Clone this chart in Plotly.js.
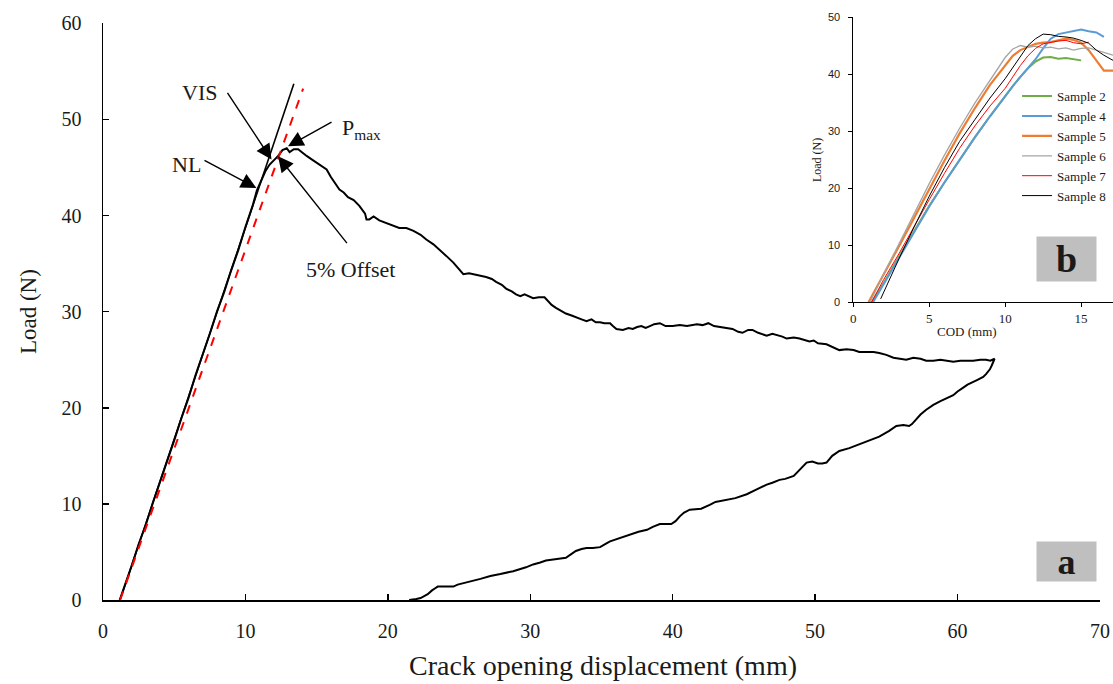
<!DOCTYPE html>
<html>
<head>
<meta charset="utf-8">
<script src="https://cdn.plot.ly/plotly-3.0.1.min.js"></script>
<style>html,body{margin:0;padding:0;background:#fff;}#chart{width:1113px;height:684px;}</style>
</head>
<body>
<div id="chart"></div>
<script>
// ---------- Main chart (a): load vs crack opening displacement ----------
var codMain = [1.17,1.6,2.0,2.5,3.0,3.5,4.0,4.5,5.0,5.5,6.0,6.5,7.0,7.5,8.0,8.5,9.0,9.5,10.0,10.5,10.8,11.1,11.4,11.7,12.0,12.3,12.6,12.9,13.1,13.4,13.7,14.0,14.3,14.6,15.0,15.3,15.7,16.0,16.3,16.6,16.9,17.2,17.6,18.0,18.4,18.5,18.7,19.0,19.4,19.9,20.4,20.8,21.3,21.8,22.3,22.7,23.2,23.6,24.1,24.6,25.0,25.3,25.7,26.0,26.5,26.9,27.3,27.6,28.0,28.3,28.7,29.0,29.3,29.6,30.2,30.6,31.0,31.25,31.5,31.8,32.2,32.5,32.9,33.2,33.6,33.95,34.3,34.6,34.9,35.2,35.6,35.8,36.05,36.5,36.9,37.2,37.5,37.8,38.1,38.4,38.7,39.1,39.5,40.0,40.5,41.0,41.3,41.7,42.1,42.5,42.9,43.3,43.8,44.2,44.6,44.9,45.3,45.6,46.0,46.6,47.0,47.3,47.7,48.0,48.5,48.9,49.3,49.6,49.9,50.2,50.8,51.3,51.7,52.2,52.7,53.1,53.6,54.1,54.5,55.0,55.5,55.9,56.4,56.9,57.4,57.8,58.3,58.8,59.2,59.7,60.2,60.7,61.1,61.6,62.0,62.3,62.6,
  62.4,62.27,62.0,61.8,61.4,61.1,60.7,60.4,60.0,59.7,59.2,58.8,58.3,57.8,57.4,57.1,56.8,56.6,56.2,55.7,55.2,54.5,53.8,53.1,52.4,51.7,51.2,50.8,50.5,50.2,49.8,49.4,48.9,48.5,47.9,47.5,47.0,46.6,45.9,45.2,44.4,43.5,43.0,42.6,42.0,41.2,40.8,40.5,40.2,39.9,39.1,38.6,38.2,37.6,37.0,36.5,36.05,35.6,35.35,34.9,34.4,33.95,33.6,33.2,32.9,32.5,32.0,31.6,31.1,30.7,30.2,29.7,28.8,27.9,27.2,26.5,25.9,25.3,24.9,24.6,24.1,23.5,23.3,23.1,22.8,22.6,22.3,22.0,21.5];
var loadMain = [0,1.8,3.5,5.8,7.8,10.1,12.2,14.5,16.6,18.9,21.0,23.4,25.5,27.7,30.0,32.0,34.3,36.4,38.8,41.0,42.6,43.6,44.6,45.3,45.7,46.2,46.8,47.0,46.6,46.9,46.9,46.5,46.2,45.9,45.5,45.2,44.8,44.0,43.3,42.7,42.4,41.9,41.6,41.0,40.2,39.6,39.6,39.9,39.5,39.2,38.9,38.7,38.7,38.4,38.0,37.5,37.0,36.5,35.8,35.1,34.4,33.9,34.0,33.9,33.8,33.6,33.4,33.1,32.8,32.4,32.1,31.8,31.6,31.8,31.4,31.5,31.5,31.1,30.7,30.4,30.1,29.8,29.6,29.4,29.2,29.0,29.2,28.9,28.9,28.8,28.8,28.5,28.2,28.1,28.3,28.2,28.4,28.5,28.3,28.5,28.7,28.8,28.5,28.5,28.6,28.5,28.6,28.7,28.6,28.8,28.5,28.4,28.3,28.2,27.9,27.8,28.1,28.1,27.8,27.5,27.7,27.6,27.4,27.2,27.3,27.2,27.0,26.9,27.0,26.7,26.6,26.3,26.0,26.1,26.0,25.8,25.8,25.8,25.7,25.5,25.2,25.1,25.0,25.2,25.1,24.9,24.9,25.0,24.9,24.8,24.9,24.9,24.9,25.0,25.0,24.9,25.1,
  24.4,24.0,23.5,23.2,22.9,22.7,22.4,22.1,21.7,21.3,21.0,20.7,20.3,19.8,19.3,18.8,18.3,18.1,18.2,18.1,17.6,17.0,16.6,16.2,15.8,15.5,15.0,14.3,14.2,14.2,14.4,14.3,13.5,12.9,12.6,12.5,12.2,12.0,11.5,11.0,10.6,10.3,10.2,9.9,9.5,9.4,9.1,8.7,8.2,7.9,7.9,7.6,7.3,7.1,6.8,6.6,6.4,6.1,5.9,5.5,5.4,5.4,5.3,5.1,4.8,4.4,4.3,4.2,4.1,3.9,3.7,3.4,3.0,2.7,2.5,2.2,2.0,1.8,1.6,1.4,1.4,1.4,1.2,1.0,0.6,0.45,0.2,0.1,0.0];

// initial-slope tangent line and 5% offset secant line
var tangentCod = [1.2, 13.4];
var tangentLoad = [0, 53.7];
var offsetCod = [1.2, 14.05];
var offsetLoad = [0, 53.2];

// ---------- Inset (b): samples ----------
var sampleNames = ["Sample 2","Sample 4","Sample 5","Sample 6","Sample 7","Sample 8"];
var s2Cod = [1.2,2,3,4,5,6,7,8,9,10,10.5,11,11.5,12,12.5,13,13.5,14,14.5,15];
var s2Load = [0,3.4,8.0,12.5,16.9,21.0,25.0,28.9,32.6,36.2,37.9,39.5,41.0,42.2,42.9,43.0,42.7,42.8,42.6,42.4];
var s4Cod = [1.3,2,3,4,5,6,7,8,9,10,10.5,11,11.5,12,12.5,13,13.5,14,14.5,15,15.5,16,16.5];
var s4Load = [0,3.2,7.8,12.4,16.8,21.0,25.0,28.9,32.6,36.2,37.9,39.5,41.0,42.6,44.5,46.2,47.0,47.3,47.6,47.8,47.5,47.3,46.5];
var s5Cod = [1.0,2,3,4,5,6,7,8,9,10,10.5,11,11.5,12,12.5,13,13.5,14,14.5,15,15.5,16,16.5,17.1];
var s5Load = [0,4.8,9.8,14.8,19.9,24.8,29.6,34.0,38.1,41.6,43.2,44.2,44.8,45.3,45.5,45.6,45.9,46.2,46.0,45.5,44.2,42.3,40.6,40.6];
var s6Cod = [1.1,2,3,4,5,6,7,8,9,10,10.5,11,11.5,12,12.5,13,13.5,14,14.5,15,15.5,16,16.5,17.1];
var s6Load = [0,5.0,10.2,15.6,20.8,25.8,30.5,34.9,39.0,42.9,44.4,45.0,44.7,44.9,44.6,44.7,44.4,44.6,44.2,44.5,44.6,44.2,43.9,43.3];
var s7Cod = [1.2,2,3,4,5,6,7,8,9,10,10.5,11,11.5,12,12.5,13,13.5,14,14.5,15,15.5];
var s7Load = [0,4.0,8.5,13.3,18.0,22.6,27.0,30.9,34.4,37.5,39.5,41.5,43.2,44.5,45.3,45.6,45.8,45.9,45.5,45.3,45.6];
var s8Cod = [1.8,2,3,4,5,6,7,8,9,10,10.5,11,11.5,12,12.5,13,13.5,14,14.5,15,15.5,16,16.5,17.1];
var s8Load = [0.6,1.8,7.6,13.2,18.6,23.6,28.2,32.0,35.8,39.2,41.2,43.2,45.0,46.2,47.0,46.9,46.6,46.5,46.3,45.9,45.4,44.2,43.3,42.4];
var sampleColors = ["#70AD47","#5B9BD5","#ED7D31","#A5A5A5","#FF0000","#000000"];
var sampleWidths = [2,2,2.2,1.3,1,1];

var serif = "Liberation Serif, Times New Roman, serif";
var txt = "#1a1a1a";

var traces = [
  {x: codMain, y: loadMain, mode: "lines", line: {color: "#000", width: 2}, showlegend: false, xaxis: "x", yaxis: "y", hoverinfo: "skip"},
  {x: tangentCod, y: tangentLoad, mode: "lines", line: {color: "#000", width: 1.6}, showlegend: false, xaxis: "x", yaxis: "y"},
  {x: offsetCod, y: offsetLoad, mode: "lines", line: {color: "#FF0000", width: 2, dash: "dash"}, showlegend: false, xaxis: "x", yaxis: "y"}
];
var sx = [s2Cod, s4Cod, s5Cod, s6Cod, s7Cod, s8Cod];
var sy = [s2Load, s4Load, s5Load, s6Load, s7Load, s8Load];
for (var i = 0; i < sampleNames.length; i++) {
  traces.push({x: sx[i], y: sy[i], name: sampleNames[i], mode: "lines",
    line: {color: sampleColors[i], width: sampleWidths[i]}, xaxis: "x2", yaxis: "y2"});
}

function arrow(tipX, tipY, tailX, tailY) {
  return {x: tipX, y: tipY, ax: tailX, ay: tailY, xref: "x", yref: "y", axref: "x", ayref: "y",
    text: "", showarrow: true, arrowhead: 2, arrowsize: 2.2, arrowwidth: 1.4, arrowcolor: "#000"};
}
function label(x, y, t) {
  return {x: x, y: y, xref: "x", yref: "y", text: t, showarrow: false, xanchor: "center", yanchor: "middle",
    font: {family: serif, size: 22, color: txt}};
}
function paperText(x, y, t, size, extra) {
  var a = {x: x, y: y, xref: "paper", yref: "paper", text: t, showarrow: false,
    xanchor: "center", yanchor: "middle", font: {family: serif, size: size, color: txt}};
  for (var k in (extra || {})) a[k] = extra[k];
  return a;
}

var annotations = [
  arrow(11.83, 45.82, 8.67, 52.92),
  arrow(10.77, 42.87, 7.02, 45.82),
  arrow(12.99, 47.20, 16.15, 49.80),
  arrow(12.29, 46.16, 17.21, 36.97),
  label(6.79, 52.76, "VIS"),
  label(5.86, 45.30, "NL"),
  label(18.15, 49.0, "P<sub>max</sub>"),
  label(17.38, 34.37, "5% Offset"),
  paperText(0.9542, 0.0657, "<b>a</b>", 36, {bgcolor: "#BFBFBF", width: 57, height: 37}),
  paperText(0.9542, 0.5849, "<b>b</b>", 38, {bgcolor: "#BFBFBF", width: 57, height: 42}),
  paperText(0.8559, 0.4597, "COD (mm)", 13),
  paperText(0.707, 0.7547, "Load (N)", 12, {textangle: -90}),
  paperText(0.4948, -0.1132, "Crack opening displacement (mm)", 28)
];

var layout = {
  width: 1113, height: 684,
  margin: {l: 103, r: 0, t: 17, b: 84},
  paper_bgcolor: "#fff", plot_bgcolor: "rgba(0,0,0,0)",
  showlegend: true,
  legend: {x: 0.905, y: 0.89, xanchor: "left", yanchor: "top", bgcolor: "rgba(0,0,0,0)",
    font: {family: serif, size: 13, color: txt}, itemwidth: 30, tracegroupgap: 0},
  xaxis: {domain: [0, 0.9871], range: [0, 70], tickvals: [0,10,20,30,40,50,60,70],
    ticks: "inside", ticklen: 6, tickwidth: 1.5, tickcolor: "#000",
    showline: true, linecolor: "#000", linewidth: 1.5, showgrid: false, zeroline: false,
    tickfont: {family: serif, size: 20, color: txt}, ticklabelstandoff: 12},
  yaxis: {domain: [0, 0.9892], range: [0, 60], tickvals: [0,10,20,30,40,50,60],
    ticks: "inside", ticklen: 6, tickwidth: 1.5, tickcolor: "#000",
    showline: true, linecolor: "#000", linewidth: 1.5, showgrid: false, zeroline: false,
    tickfont: {family: serif, size: 20, color: txt}, ticklabelstandoff: 16,
    title: {text: "Load (N)", font: {family: serif, size: 23, color: txt}, standoff: 18}},
  xaxis2: {domain: [0.7429, 1], anchor: "y2", range: [0, 17.1], tickvals: [0,5,10,15],
    ticks: "outside", ticklen: 4, tickwidth: 1, tickcolor: "#000",
    showline: true, linecolor: "#000", linewidth: 1, showgrid: false, zeroline: false,
    tickfont: {family: serif, size: 13, color: txt}, ticklabelstandoff: 0},
  yaxis2: {domain: [0.5106, 1], anchor: "x2", range: [0, 50], tickvals: [0,10,20,30,40,50],
    ticks: "outside", ticklen: 4, tickwidth: 1, tickcolor: "#000",
    showline: true, linecolor: "#000", linewidth: 1, showgrid: false, zeroline: false,
    tickfont: {family: "Liberation Sans, Arial, sans-serif", size: 11, color: txt}, ticklabelstandoff: 6},
  annotations: annotations
};

Plotly.newPlot("chart", traces, layout, {displayModeBar: false, staticPlot: true});
</script>
</body>
</html>
